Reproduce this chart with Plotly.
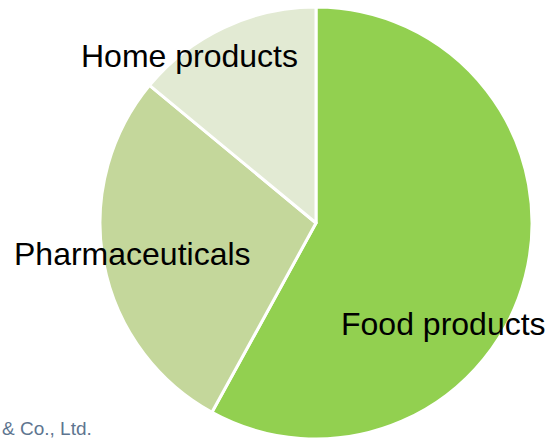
import plotly.graph_objects as go

# Share of sales by business segment
categories = ["Food products", "Pharmaceuticals", "Home products"]
shares = [58, 28, 14]
slice_colors = ["#92D050", "#C4D79B", "#E2EAD3"]
footnote = "& Co., Ltd."

W, H = 549, 439
M_TOP, M_BOTTOM = 7, 0
plot_h = H - M_TOP - M_BOTTOM

# pixel positions of the category labels (text centres)
label_px = [(443, 324), (132, 254), (189, 56)]


def to_paper(px, py):
    return px / W, (plot_h - (py - M_TOP)) / plot_h


fig = go.Figure(
    go.Pie(
        labels=categories,
        values=shares,
        sort=False,
        direction="clockwise",
        rotation=0,
        marker=dict(colors=slice_colors, line=dict(color="white", width=3)),
        textinfo="none",
        hoverinfo="label+percent",
        domain=dict(x=[0.1512, 1.0], y=[0.0, 1.0]),
        showlegend=False,
    )
)

annotations = []
for name, (px, py) in zip(categories, label_px):
    x, y = to_paper(px, py)
    annotations.append(
        dict(
            text=name, x=x, y=y, xref="paper", yref="paper",
            xanchor="center", yanchor="middle", showarrow=False,
            font=dict(family="Liberation Sans, Arial, sans-serif", size=32, color="#000000"),
        )
    )

annotations.append(
    dict(
        text=footnote, x=0, y=0, xref="paper", yref="paper",
        xanchor="left", yanchor="bottom", showarrow=False, yshift=-2,
        font=dict(family="Liberation Sans, Arial, sans-serif", size=19, color="#5E7590"),
    )
)

fig.update_layout(
    width=W,
    height=H,
    margin=dict(l=0, r=0, t=M_TOP, b=M_BOTTOM),
    paper_bgcolor="white",
    plot_bgcolor="white",
    annotations=annotations,
)

fig.write_html("out.html")
